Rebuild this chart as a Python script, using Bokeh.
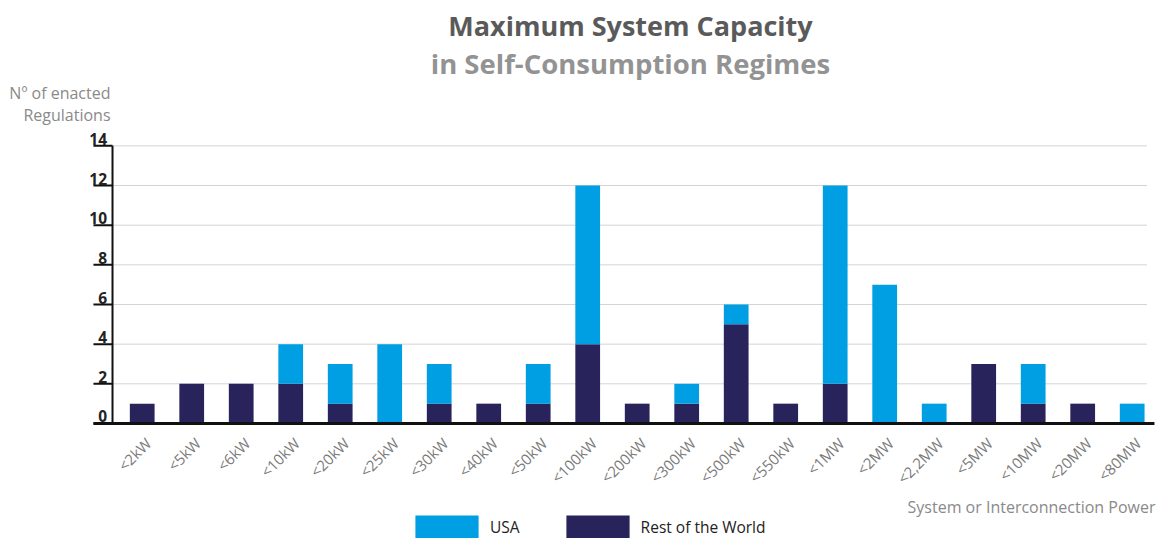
from math import pi
from bokeh.plotting import figure
from bokeh.models import (ColumnDataSource, Range1d, Label, Legend, LegendItem)
from bokeh.embed import file_html
from bokeh.resources import INLINE

categories = ["<2kW", "<5kW", "<6kW", "<10kW", "<20kW", "<25kW", "<30kW", "<40kW",
              "<50kW", "<100kW", "<200kW", "<300kW", "<500kW", "<550kW", "<1MW",
              "<2MW", "<2,2MW", "<5MW", "<10MW", "<20MW", "<80MW"]
rest_of_world = [1, 2, 2, 2, 1, 0, 1, 1, 1, 4, 1, 1, 5, 1, 2, 0, 0, 3, 1, 1, 0]
usa = [0, 0, 0, 2, 2, 4, 2, 0, 2, 8, 0, 1, 1, 0, 10, 7, 1, 0, 2, 0, 1]
y_ticks = [0, 2, 4, 6, 8, 10, 12, 14]
y_tick_labels = ["0", "2", "4", "6", "8", "10", "12", "14"]

FONT = "Open Sans"
NAVY = "#29235c"
BLUE = "#009fe3"
W, H = 1160, 538

# axis geometry (in category / value units)
AXIS_X = -0.6
TICK_LEN = 0.385
GRID_END = 20.3
BASE_END = 20.45

xs = list(range(len(categories)))
src = ColumnDataSource(dict(x=xs, row=rest_of_world, usa=usa, cat=categories,
                            y0=[0] * len(xs)))

p = figure(width=W, height=H, output_backend="svg", toolbar_location=None,
           x_range=Range1d(-2.863, 20.572), y_range=Range1d(-5.80, 21.33),
           x_axis_location=None, y_axis_location=None,
           min_border=0, min_border_left=0, min_border_right=0,
           min_border_top=0, min_border_bottom=0)
p.outline_line_color = None
p.background_fill_color = "white"
p.border_fill_color = "white"
p.grid.visible = False

# grid lines (value axis)
grid_src = ColumnDataSource(dict(y=y_ticks[1:], x0=[AXIS_X] * 7, x1=[GRID_END] * 7))
p.segment(x0="x0", y0="y", x1="x1", y1="y", source=grid_src,
          line_color="#d4d4d4", line_width=1)

rs = p.vbar_stack(["row", "usa"], x="x", width=0.5, source=src,
                  fill_color=[NAVY, BLUE], line_color=None)

# y axis line + ticks + labels
tick_src = ColumnDataSource(dict(y=y_ticks, t=y_tick_labels,
                                 x0=[AXIS_X - TICK_LEN] * 8, x1=[AXIS_X] * 8,
                                 xl=[AXIS_X - 0.11] * 8))
p.segment(x0=AXIS_X, y0=0, x1=AXIS_X, y1=14, line_color="#111111", line_width=2)
p.segment(x0="x0", y0="y", x1="x1", y1="y", source=tick_src,
          line_color="#111111", line_width=2)
p.text(x="xl", y="y", text="t", source=tick_src, text_align="right",
       text_baseline="bottom", y_offset=-1, text_font={"value": FONT},
       text_font_size="15.5px", text_font_style="bold", text_color="#222222")

# x axis baseline + category labels
p.segment(x0=AXIS_X - TICK_LEN, y0=0, x1=BASE_END, y1=0,
          line_color="#111111", line_width=3)
p.text(x="x", y="y0", text="cat", source=src, angle=pi / 4,
       text_align="right", text_baseline="middle", x_offset=6, y_offset=17,
       text_font={"value": FONT}, text_font_size="15px", text_color="#7a7a7a")

# legend
legend = Legend(items=[LegendItem(label="USA", renderers=[rs[1]]),
                       LegendItem(label="Rest of the World", renderers=[rs[0]])],
                orientation="horizontal", location=(407, -3),
                glyph_width=79, glyph_height=29, label_standoff=4, spacing=38,
                padding=0, margin=0, border_line_color=None,
                background_fill_alpha=0, label_text_font=FONT,
                label_text_font_size="15.5px", label_text_color="#222222")
p.add_layout(legend)

def lab(text, sx, sy, size, color, style="normal", align="left"):
    p.add_layout(Label(x=sx, y=H - sy, x_units="screen", y_units="screen",
                       text=text, text_font=FONT, text_font_size=size,
                       text_font_style=style, text_color=color, text_align=align,
                       text_baseline="middle"))

lab("Maximum System Capacity", 630, 25, "27px", "#5a5a5a", "bold", "center")
lab("in Self-Consumption Regimes", 630, 63, "27.5px", "#939393", "bold", "center")
lab("Nº of enacted", 110, 92, "16px", "#8a8a8a", align="right")
lab("Regulations", 110, 114, "16px", "#8a8a8a", align="right")
lab("System or Interconnection Power", 1155, 506, "16px", "#8a8a8a", align="right")

open("out.html", "w").write(file_html(p, INLINE))
